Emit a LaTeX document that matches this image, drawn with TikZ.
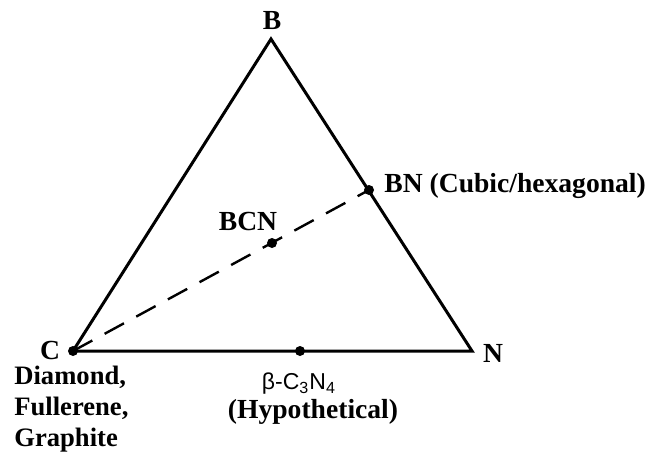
\documentclass[tikz,border=0pt]{standalone}
\usepackage{fontspec}
\setmainfont{Liberation Serif}
\newfontfamily\labfont{Liberation Sans}
\begin{document}
\begin{tikzpicture}[x=0.5pt,y=-0.5pt,
  lbl/.style={font=\fontsize{13.8}{16}\selectfont\bfseries, inner sep=0pt},
  pt/.style={circle, fill=black, inner sep=0pt, minimum size=5pt}]

\useasboundingbox (0,0) rectangle (654,451);

% corners of the triangle
\coordinate (B) at (271,39);
\coordinate (C) at (73,351);
\coordinate (N) at (472,351);

\draw[line width=1.5pt, line join=miter] (B)--(N)--(C)--cycle;

% points on it
\node[pt] (cdot) at (C) {};
\node[pt] (bn) at (369,190) {};
\node[pt] (bcn) at (272,243) {};
\node[pt] (cn) at (300,351) {};

\draw[line width=1.2pt, dash pattern=on 11pt off 7pt] (cdot.center)--(bn.center);

% labels
\node[lbl] (lB) at (272,20) {B};
\node[lbl] (lC) at (50,350) {C};
\node[lbl] (lN) at (493,353) {N};
\node[lbl, anchor=west] (lBN) at (384,186) {BN (Cubic/hexagonal)};
\node[lbl] (lBCN) at (248,221) {BCN};
\node[lbl, anchor=north west, align=left, font=\fontsize{13.3}{15.5}\selectfont\bfseries] (lCc) at (14,366) {Diamond,\\Fullerene,\\Graphite};
\node[inner sep=0pt, font=\labfont\fontsize{11.5}{14}\selectfont] (lCN) at (299,384) {β-C\textsubscript{3}N\textsubscript{4}};
\node[lbl] (lHyp) at (313,412) {(Hypothetical)};
\end{tikzpicture}
\end{document}
